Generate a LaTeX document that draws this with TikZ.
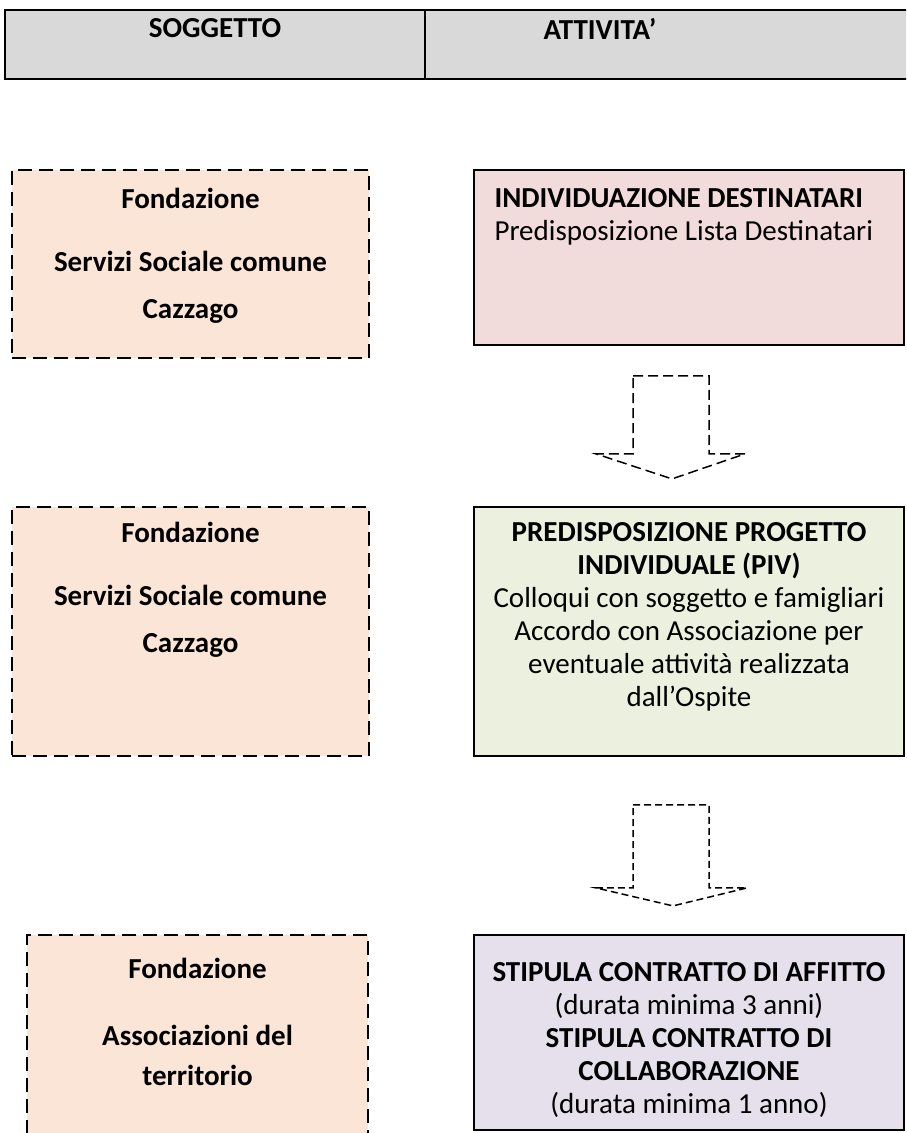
\documentclass[tikz,border=0pt]{standalone}
\usepackage{fontspec}
\setmainfont{Carlito}
\usepackage{tikz}
\usetikzlibrary{positioning,calc}

\definecolor{grigio}{HTML}{D9D9D9}
\definecolor{pesca}{HTML}{FBE5D6}
\definecolor{rosa}{HTML}{F2DCDB}
\definecolor{verde}{HTML}{EBF1DE}
\definecolor{lilla}{HTML}{E5E0EC}
\newcommand{\testo}{\fontsize{14.5}{16.5}\selectfont}

\begin{document}
\begin{tikzpicture}[x=0.5pt,y=-0.5pt,
    every node/.style={inner sep=0pt, font=\testo},
    sogg/.style={draw, fill=pesca, line width=1pt, dash pattern=on 7pt off 3.5pt},
    att/.style={draw, fill=#1, line width=0.9pt, minimum width=215pt},
    freccia/.style={draw, line width=0.75pt, dash pattern=on 5pt off 2.5pt}]
\useasboundingbox (0,0) rectangle (906,1133);
\clip (0,0) rectangle (906,1133);

\node[draw, fill=grigio, line width=1.2pt, minimum width=455pt, minimum height=34.5pt] (head) at (460,44.5) {};
\draw[line width=0.8pt] (425,0 |- head.north) -- (425,0 |- head.south);
\node[anchor=north, font=\testo\bfseries] (hsogg) at (215,18) {SOGGETTO};
\node[anchor=north, font=\testo\bfseries] (hatt) at (600,18) {ATTIVITA’};

\node[sogg, minimum width=178.5pt, minimum height=94pt] (s1) at (190.5,264) {};
\node[sogg, minimum width=178.5pt, minimum height=124.5pt] (s2) at (190.5,631.5) {};
\node[sogg, minimum width=170.5pt, minimum height=112.5pt] (s3) at (197.5,1047.5) {};

\node[anchor=north, align=center, font=\testo\bfseries] (s1t) at ([yshift=-9.5pt]s1.north) {Fondazione\\[15pt]Servizi Sociale comune\\[7pt]Cazzago};
\node[anchor=north, align=center, font=\testo\bfseries] (s2t) at ([yshift=-8pt]s2.north) {Fondazione\\[15pt]Servizi Sociale comune\\[7pt]Cazzago};
\node[anchor=north, align=center, font=\testo\bfseries] (s3t) at ([yshift=-12pt]s3.north) {Fondazione\\[17pt]Associazioni del\\[3.5pt]territorio};

\node[att=rosa, minimum height=87.5pt] (a1) at (689,257.5) {};
\node[att=verde, minimum height=124.5pt] (a2) at (689,631.5) {};
\node[att=lilla, minimum height=97.5pt] (a3) at (689,1032.5) {};

\node[anchor=north west, align=left] (a1t) at ([xshift=10.5pt,yshift=-9.5pt]a1.north west) {\textbf{INDIVIDUAZIONE DESTINATARI}\\Predisposizione Lista Destinatari};
\node[anchor=north, align=center] (a2t) at ([yshift=-8pt]a2.north) {\textbf{PREDISPOSIZIONE PROGETTO}\\\textbf{INDIVIDUALE (PIV)}\\Colloqui con soggetto e famigliari\\Accordo con Associazione per\\eventuale attività realizzata\\dall’Ospite};
\node[anchor=north, align=center] (a3t) at ([yshift=-14pt]a3.north) {\textbf{STIPULA CONTRATTO DI AFFITTO}\\(durata minima 3 anni)\\\textbf{STIPULA CONTRATTO DI}\\\textbf{COLLABORAZIONE}\\(durata minima 1 anno)};

\draw[freccia] ($(a1.south)+(-56,30)$) -- ++(76,0) -- ++(0,78) -- ++(36,0) -- ++(-73,25) -- ++(-76,-25) -- ++(37,0) -- cycle;
\draw[freccia, dash pattern=on 3.5pt off 2pt] ($(a2.south)+(-56,48)$) -- ++(76,0) -- ++(0,83) -- ++(38,0) -- ++(-74,18) -- ++(-77,-18) -- ++(37,0) -- cycle;
\end{tikzpicture}
\end{document}
